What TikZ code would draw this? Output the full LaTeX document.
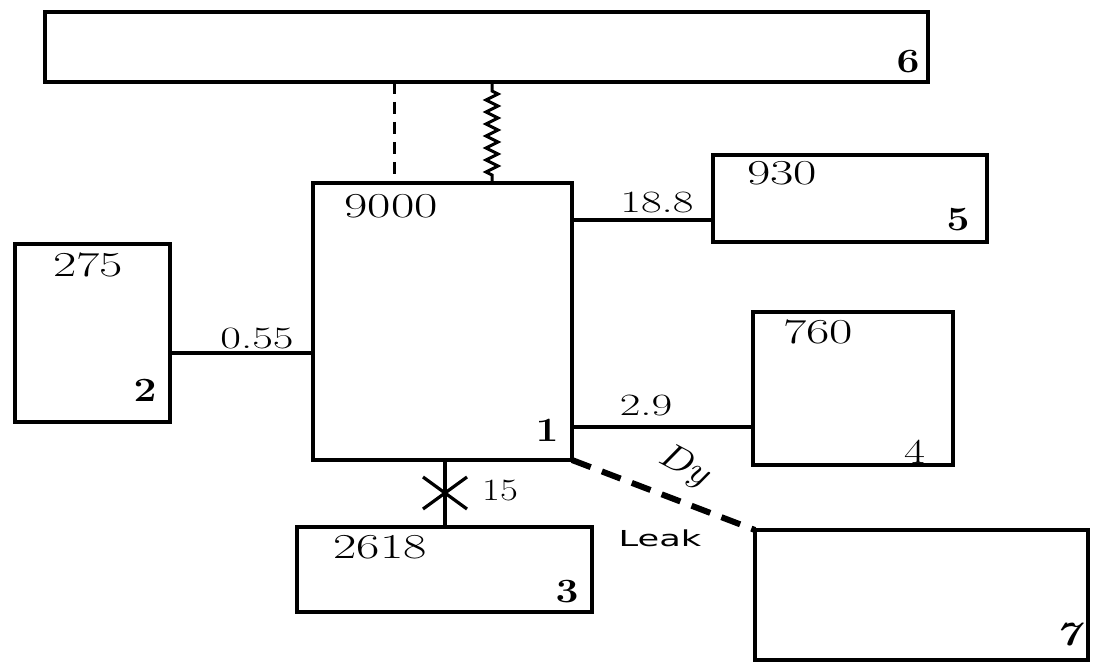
\documentclass[tikz,border=0pt]{standalone}
\usepackage{fontspec}
\newfontfamily\leakfont{DejaVu Sans}
\usetikzlibrary{decorations.pathmorphing}
\newcommand\widetxt[1]{\scalebox{1.45}[1]{#1}}
\tikzset{
  box/.style={draw, line width=4.5pt, anchor=north west, inner sep=0pt, outer sep=0pt},
  conn/.style={line width=3.2pt},
  val/.style={font=\fontsize{35}{35}\selectfont, inner sep=0pt},
  lab/.style={font=\fontsize{31}{31}\selectfont, inner sep=0pt},
  idx/.style={font=\fontsize{34}{34}\selectfont\bfseries, inner sep=0pt},
  leakline/.style={line width=6pt, dash pattern=on 20pt off 12pt},
  dashline/.style={line width=3pt, dash pattern=on 12pt off 8pt},
  zig/.style={line width=3pt, decorate, decoration={zigzag, segment length=12pt, amplitude=6pt, pre length=8pt, post length=8pt}}
}
\begin{document}
\begin{tikzpicture}[x=1pt, y=-1pt]
\useasboundingbox (0,0) rectangle (1094,666);
% boxes
\node[box, minimum width=883pt, minimum height=70pt] (b6) at (45,12) {};
\node[box, minimum width=259pt, minimum height=277pt] (b1) at (313,183) {};
\node[box, minimum width=155pt, minimum height=178pt] (b2) at (15,244) {};
\node[box, minimum width=274pt, minimum height=87pt] (b5) at (713,155) {};
\node[box, minimum width=200pt, minimum height=153pt] (b4) at (753,312) {};
\node[box, minimum width=295pt, minimum height=85pt] (b3) at (297,527) {};
\node[box, minimum width=333pt, minimum height=130pt] (b7) at (755,530) {};
% helper coordinates
\coordinate (dsh) at (394,0);
\coordinate (zz) at (492,0);
\coordinate (y055) at (0,353);
\coordinate (y188) at (0,220);
\coordinate (y29) at (0,427);
\coordinate (x15) at (445,493);
% connectors
\draw[dashline] (b6.south -| dsh) -- (b1.north -| dsh);
\draw[zig] (b1.north -| zz) -- (b6.south -| zz);
\draw[conn] (b2.east |- y055) -- (b1.west |- y055);
\draw[conn] (b1.east |- y188) -- (b5.west |- y188);
\draw[conn] (b1.east |- y29) -- (b4.west |- y29);
\draw[conn] (b1.south -| x15) -- (b3.north -| x15);
\draw[conn] ([shift={(-22,-16)}]x15) -- ([shift={(22,16)}]x15);
\draw[conn] ([shift={(-22,16)}]x15) -- ([shift={(22,-16)}]x15);
\draw[leakline] (b1.south east) -- (b7.north west);
% texts
\node[val] (t9000) at (391,206) {\widetxt{9000}};
\node[val] (t275) at (88,265) {\widetxt{275}};
\node[val] (t930) at (782,173) {\widetxt{930}};
\node[val] (t760) at (818,332) {\widetxt{760}};
\node[val] (t2618) at (380,547) {\widetxt{2618}};
\node[lab] (l055) at (257,338) {\widetxt{0.55}};
\node[lab] (l188) at (657,203) {\widetxt{18.8}};
\node[lab] (l29) at (646,405) {\widetxt{2.9}};
\node[lab] (l15) at (500,490) {\scalebox{1.25}[1]{15}};
\node[idx] (n1) at (547,430) {\scalebox{1.2}[1]{1}};
\node[idx] (n2) at (145,390) {\scalebox{1.2}[1]{2}};
\node[idx] (n3) at (567,592) {\scalebox{1.2}[1]{3}};
\node[val] (n4) at (915,452) {\scalebox{1.3}[1]{4}};
\node[idx] (n5) at (958,220) {\scalebox{1.2}[1]{5}};
\node[idx] (n6) at (908,62) {\scalebox{1.2}[1]{6}};
\node[idx] (n7) at (1068,635) {\scalebox{1.2}[1]{\itshape 7}};
\node[font=\fontsize{36}{36}\selectfont\itshape, inner sep=0pt, rotate=-28] (dy) at (684,466) {\scalebox{1.2}[1]{Dy}};
\node[font=\fontsize{22}{22}\selectfont\leakfont, inner sep=0pt] (leak) at (660,538) {\scalebox{1.6}[1]{Leak}};
\end{tikzpicture}
\end{document}
